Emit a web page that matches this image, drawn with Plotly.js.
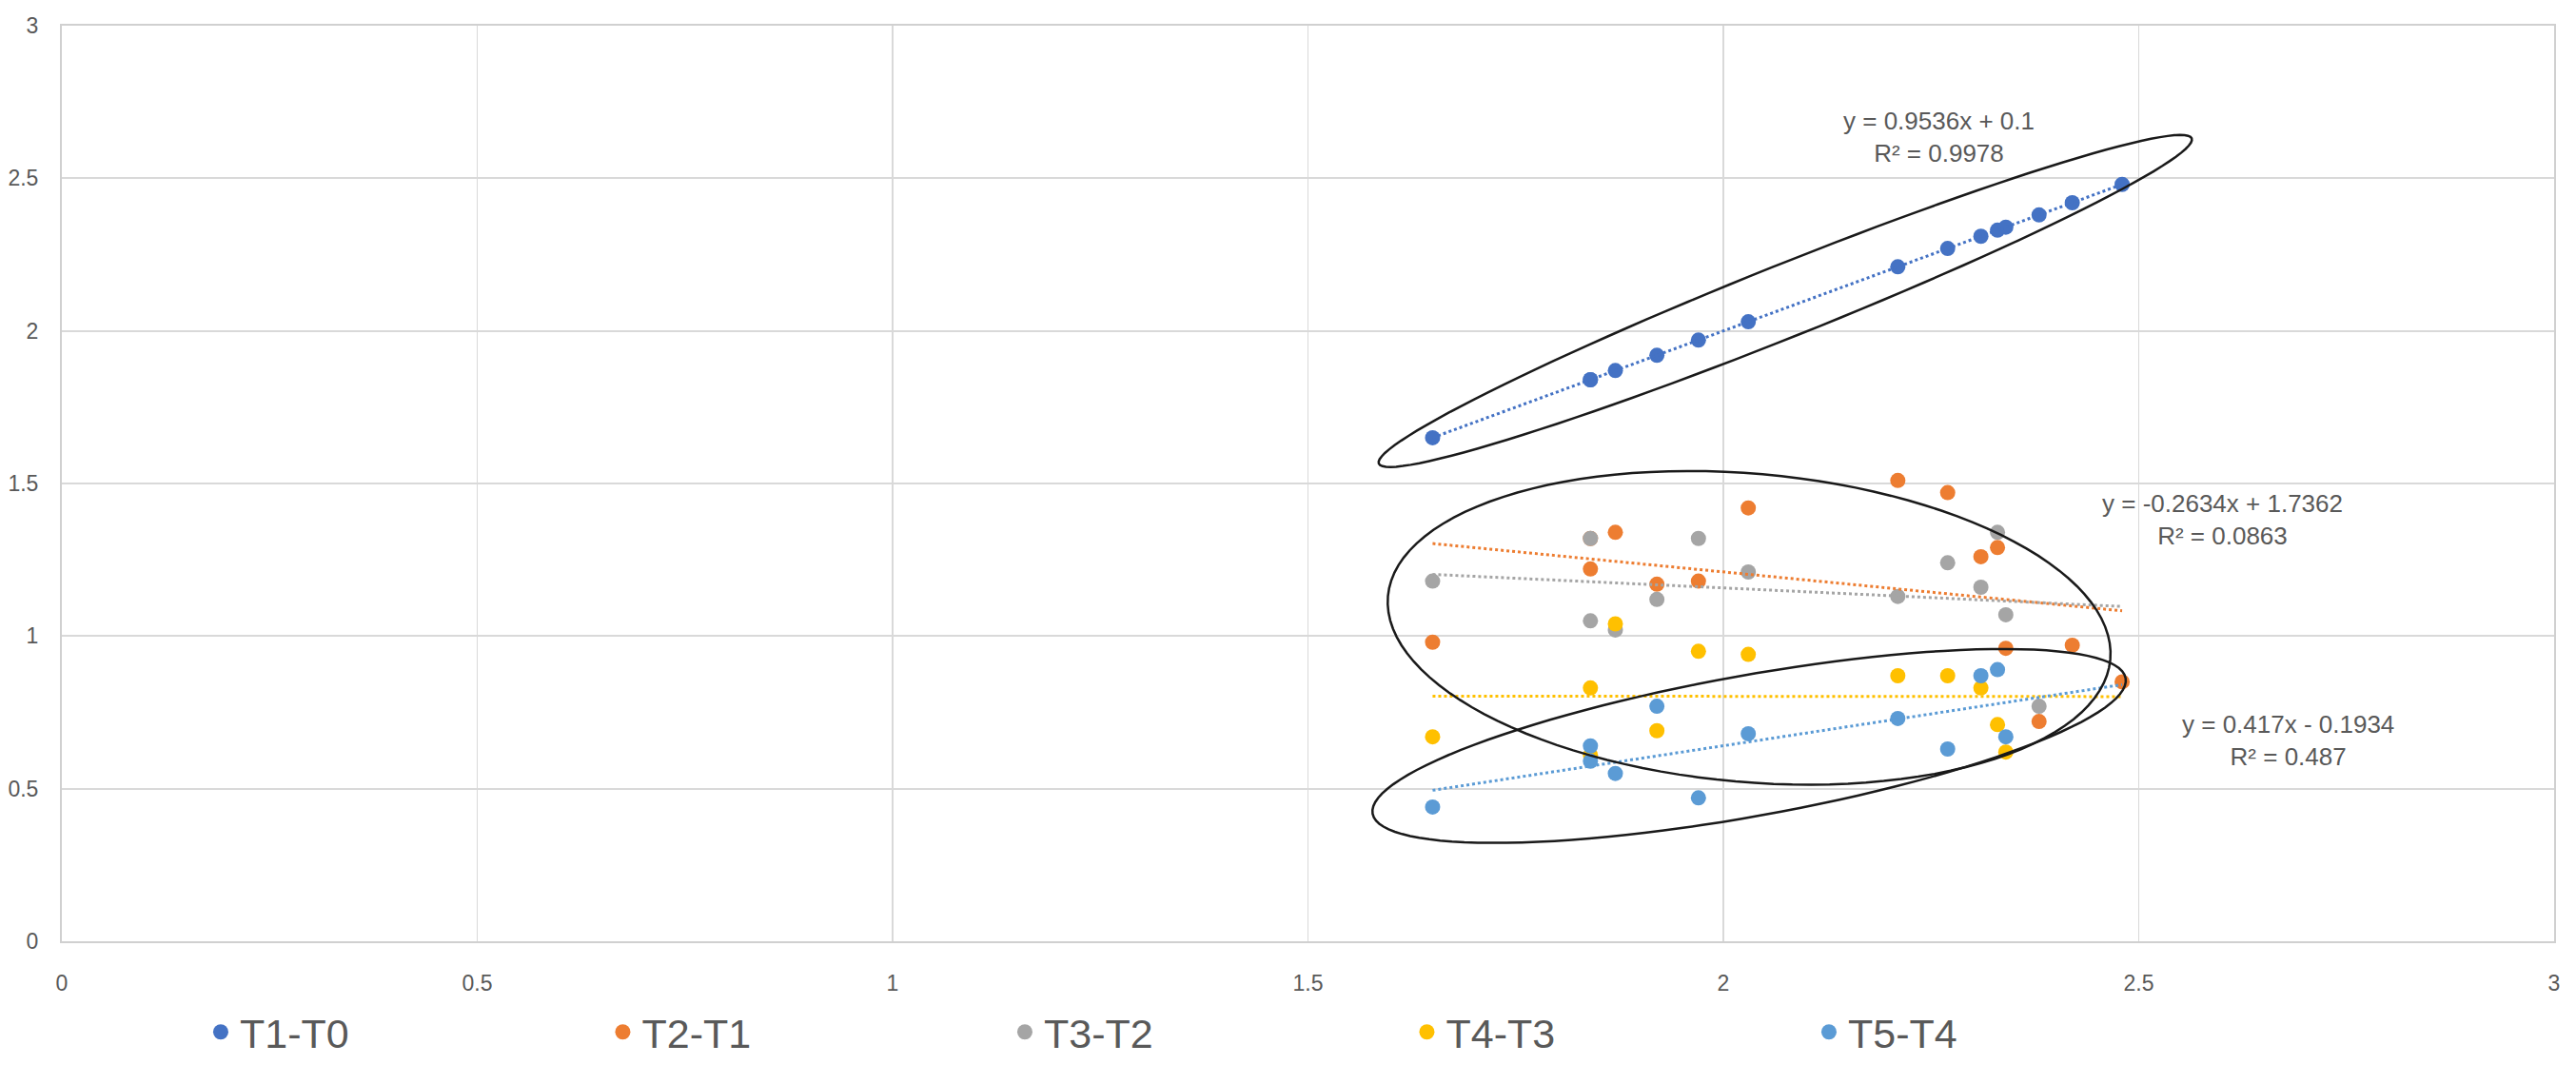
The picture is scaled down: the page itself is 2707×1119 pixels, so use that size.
<!DOCTYPE html>
<html><head><meta charset="utf-8">
<script src="https://cdn.plot.ly/plotly-3.0.1.min.js"></script>
<style>html,body{margin:0;padding:0;background:#fff;}#chart{width:2707px;height:1119px;}</style>
</head><body><div id="chart"></div>
<script>
// ---- data ----
const xValues = [1.65, 1.84, 1.84, 1.87, 1.92, 1.97, 2.03, 2.21, 2.27, 2.31, 2.33, 2.34, 2.38, 2.42, 2.48];
const seriesNames = ['T1-T0', 'T2-T1', 'T3-T2', 'T4-T3', 'T5-T4'];
const t1t0 = [1.65, 1.84, 1.84, 1.87, 1.92, 1.97, 2.03, 2.21, 2.27, 2.31, 2.33, 2.34, 2.38, 2.42, 2.48];
const t2t1 = [0.98, 1.22, 1.32, 1.34, 1.17, 1.18, 1.42, 1.51, 1.47, 1.26, 1.29, 0.96, 0.72, 0.97, 0.85];
const t3t2 = [1.18, 1.32, 1.05, 1.02, 1.12, 1.32, 1.21, 1.13, 1.24, 1.16, 1.34, 1.07, 0.77, null, null];
const t4t3 = [0.67, 0.83, 0.61, 1.04, 0.69, 0.95, 0.94, 0.87, 0.87, 0.83, 0.71, 0.62, null, null, null];
const t5t4 = [0.44, 0.64, 0.59, 0.55, 0.77, 0.47, 0.68, 0.73, 0.63, 0.87, 0.89, 0.67, null, null, null];
const tickVals = [0, 0.5, 1, 1.5, 2, 2.5, 3];
const tickText = ['0', '0.5', '1', '1.5', '2', '2.5', '3'];
const equationTexts = [
  'y = 0.9536x + 0.1<br>R² = 0.9978',
  'y = -0.2634x + 1.7362<br>R² = 0.0863',
  'y = 0.417x - 0.1934<br>R² = 0.487'
];

// ---- styling ----
const seriesY = [t1t0, t2t1, t3t2, t4t3, t5t4];
const colors = ['#4472C4', '#ED7D31', '#A5A5A5', '#FFC000', '#5B9BD5'];
const W = 2707, H = 1119;
const M = {l: 65, r: 23, t: 27, b: 130};
const FONT = '"Liberation Sans", Arial, sans-serif';
const kx = (W - M.l - M.r) / 3;   // px per x unit
const ky = (H - M.t - M.b) / 3;   // px per y unit

function fit(xs, ys) {
  let n = 0, sx = 0, sy = 0, sxx = 0, sxy = 0;
  for (let i = 0; i < xs.length; i++) {
    if (ys[i] === null) continue;
    n++; sx += xs[i]; sy += ys[i]; sxx += xs[i] * xs[i]; sxy += xs[i] * ys[i];
  }
  const m = (n * sxy - sx * sy) / (n * sxx - sx * sx);
  return {m: m, c: (sy - m * sx) / n};
}

const traces = [];
seriesY.forEach((ys, i) => {
  traces.push({
    type: 'scatter', mode: 'markers', name: seriesNames[i],
    x: xValues, y: ys,
    marker: {color: colors[i], size: 16},
    hoverinfo: 'x+y'
  });
});
const xMin = Math.min(...xValues), xMax = Math.max(...xValues);
seriesY.forEach((ys, i) => {
  const f = fit(xValues, ys);
  traces.push({
    type: 'scatter', mode: 'lines', showlegend: false, hoverinfo: 'skip',
    x: [xMin, xMax], y: [f.m * xMin + f.c, f.m * xMax + f.c],
    line: {color: colors[i], width: 3, dash: 'dot'}
  });
});

// hand-drawn ellipses (centre in data units, semi-axes in px, angle in deg, screen up positive)
function ellipsePath(cx, cy, a, b, deg) {
  const th = deg * Math.PI / 180;
  let p = '';
  for (let k = 0; k <= 120; k++) {
    const t = 2 * Math.PI * k / 120;
    const dx = a * Math.cos(t) * Math.cos(th) - b * Math.sin(t) * Math.sin(th);
    const dy = a * Math.cos(t) * Math.sin(th) + b * Math.sin(t) * Math.cos(th);
    p += (k ? ' L ' : 'M ') + (cx + dx / kx).toFixed(5) + ',' + (cy + dy / ky).toFixed(5);
  }
  return p + ' Z';
}
const ellLine = {color: '#1a1a1a', width: 2.5};
const shapes = [
  {type: 'path', xref: 'x', yref: 'y', path: ellipsePath(2.0745, 2.098, 460, 38, 21.8), line: ellLine, layer: 'above'},
  {type: 'path', xref: 'x', yref: 'y', path: ellipsePath(2.031, 1.027, 381, 162, -5), line: ellLine, layer: 'above'},
  {type: 'path', xref: 'x', yref: 'y', path: ellipsePath(2.031, 0.64, 402, 74, 10.2), line: ellLine, layer: 'above'}
];

const eqFont = {family: FONT, size: 26, color: '#595959'};
const annotations = [
  {x: 2.259, y: 2.636, text: equationTexts[0]},
  {x: 2.601, y: 1.380, text: equationTexts[1]},
  {x: 2.680, y: 0.658, text: equationTexts[2]}
].map(a => Object.assign(a, {xref: 'x', yref: 'y', showarrow: false, align: 'center', font: eqFont}));

const axisCommon = {
  range: [0, 3], tickvals: tickVals, ticktext: tickText, showgrid: true,
  gridcolor: '#d9d9d9', gridwidth: 2, zeroline: false, showline: true, linecolor: '#d0d0d0', linewidth: 2,
  mirror: true, ticks: '', tickfont: {family: FONT, size: 23, color: '#595959'}, fixedrange: true
};

const layout = {
  width: W, height: H, margin: M, paper_bgcolor: '#fff', plot_bgcolor: '#fff',
  font: {family: FONT, color: '#595959'},
  xaxis: Object.assign({}, axisCommon, {ticklabelstandoff: 22, gridwidth: 1.6}),
  yaxis: Object.assign({}, axisCommon, {ticklabelstandoff: 18}),
  showlegend: true,
  legend: {
    orientation: 'h', xref: 'container', yref: 'container', x: 0.0783, y: 0.031,
    xanchor: 'left', yanchor: 'middle', entrywidth: 377.5, entrywidthmode: 'pixels',
    font: {family: FONT, size: 43, color: '#595959'}, bgcolor: 'rgba(0,0,0,0)', itemwidth: 30
  },
  shapes: shapes, annotations: annotations
};

Plotly.newPlot('chart', traces, layout, {displayModeBar: false, staticPlot: true});
</script></body></html>
